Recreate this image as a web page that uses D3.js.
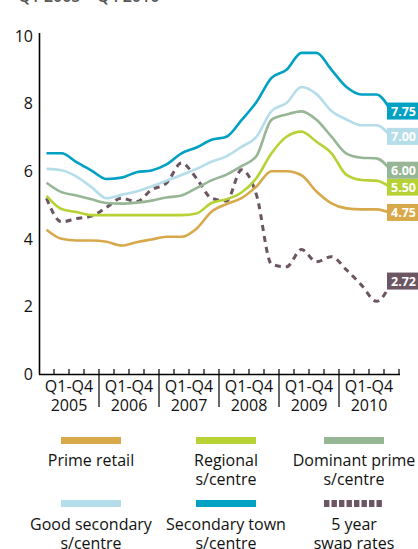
<!DOCTYPE html>
<html><head><meta charset="utf-8">
<script src="https://cdn.jsdelivr.net/npm/d3@7"></script>
<style>body{margin:0;background:#fff}svg{display:block}text{font-family:"Open Sans",sans-serif}</style>
</head><body>
<svg id="c" width="418" height="549"></svg>
<script>
const years = ["2005","2006","2007","2008","2009","2010"];
const quarters = ["Q1","Q2","Q3","Q4"];
const yTicks = [0,2,4,6,8,10];
const primeRetail = [4.27,4.0,3.95,3.95,3.91,3.8,3.9,3.98,4.06,4.06,4.3,4.8,5.03,5.2,5.55,6.0,6.0,5.88,5.4,5.05,4.9,4.87,4.87,4.75];
const regional = [5.27,4.88,4.79,4.7,4.7,4.7,4.7,4.7,4.7,4.7,4.75,5.06,5.17,5.37,5.8,6.53,7.02,7.17,6.87,6.53,5.89,5.74,5.72,5.5];
const dominant = [5.66,5.38,5.28,5.17,5.06,5.04,5.07,5.13,5.22,5.28,5.5,5.73,5.9,6.15,6.45,7.52,7.68,7.77,7.52,7.02,6.52,6.4,6.38,6.0];
const goodSecondary = [6.07,6.03,5.84,5.53,5.2,5.3,5.4,5.55,5.72,5.89,6.07,6.28,6.44,6.72,7.02,7.78,8.02,8.49,8.28,7.78,7.53,7.36,7.36,7.0];
const secondaryTown = [6.53,6.53,6.27,6.02,5.77,5.81,5.97,6.02,6.2,6.53,6.7,6.93,7.02,7.51,8.05,8.76,9.0,9.5,9.5,9.0,8.49,8.27,8.27,7.75];
const swapRates = [5.2,4.5,4.6,4.67,4.93,5.2,5.1,5.45,5.65,6.24,5.79,5.2,5.12,6.04,5.3,3.25,3.17,3.68,3.32,3.47,3.08,2.63,2.15,2.72];
const endLabels = ["4.75","5.50","6.00","7.00","7.75","2.72"];
const seriesNames = [["Prime retail"],["Regional","s/centre"],["Dominant prime","s/centre"],["Good secondary","s/centre"],["Secondary town","s/centre"],["5 year","swap rates"]];

const periods = [];
years.forEach(y => quarters.forEach(q => periods.push(y + q)));
const series = [
  {vals: primeRetail, color: "#D8A94B", dash: null},
  {vals: regional, color: "#B6D235", dash: null},
  {vals: dominant, color: "#97B696", dash: null},
  {vals: goodSecondary, color: "#B5DDEA", dash: null},
  {vals: secondaryTown, color: "#00A1C2", dash: null},
  {vals: swapRates, color: "#6C5663", dash: "6,5"}
];
const drawOrder = [5,0,1,2,3,4];

const svg = d3.select("#c");
const x0 = 39, x1 = 399;
const xBand = d3.scaleBand().domain(periods).range([x0, x1]);
const xYear = d3.scaleBand().domain(years).range([x0, x1]);
const y = d3.scaleLinear().domain([0,10]).range([374, 36]);
const xc = p => xBand(p) + xBand.bandwidth()/2;

// cropped title at top
svg.append("text").attr("x",18).attr("y",2).attr("font-size",16).attr("font-weight",600)
  .attr("fill","#555").text("Q1 2005 \u2013 Q4 2010");

// y axis
svg.append("line").attr("x1",x0+0.5).attr("x2",x0+0.5).attr("y1",33).attr("y2",y(0)+0.5)
  .attr("stroke","#000").attr("stroke-width",1.6);
svg.append("g").selectAll("text").data(yTicks).join("text")
  .attr("x",33).attr("y",d=>y(d)).attr("dy","0.36em").attr("text-anchor","end")
  .attr("font-size",16).attr("fill","#111").text(d=>d);

// x axis
svg.append("line").attr("x1",x0).attr("x2",x1+1).attr("y1",y(0)+0.5).attr("y2",y(0)+0.5)
  .attr("stroke","#000").attr("stroke-width",1.6);
svg.append("g").selectAll("line").data(periods).join("line")
  .attr("x1",p=>xBand(p)+xBand.bandwidth()).attr("x2",p=>xBand(p)+xBand.bandwidth())
  .attr("y1",y(0)).attr("y2",y(0)-5).attr("stroke","#000").attr("stroke-width",1.2);
svg.append("g").selectAll("line").data(years.slice(0,-1)).join("line")
  .attr("x1",d=>xYear(d)+xYear.bandwidth()).attr("x2",d=>xYear(d)+xYear.bandwidth())
  .attr("y1",y(0)).attr("y2",407).attr("stroke","#000").attr("stroke-width",1.2);
const yl = svg.append("g").selectAll("text").data(years).join("text")
  .attr("text-anchor","middle").attr("font-size",16).attr("fill","#111");
yl.append("tspan").attr("x",d=>xYear(d)+xYear.bandwidth()/2).attr("y",392).text("Q1-Q4");
yl.append("tspan").attr("x",d=>xYear(d)+xYear.bandwidth()/2).attr("y",411).text(d=>d);

// lines
const line = d3.line().x((d,i)=>xc(periods[i])).y(d=>y(d)).curve(d3.curveMonotoneX);
drawOrder.forEach(k => {
  const s = series[k];
  svg.append("path").attr("d", line(s.vals)).attr("fill","none")
    .attr("stroke", s.color).attr("stroke-width", s.dash ? 3 : 2.6)
    .attr("stroke-dasharray", s.dash).attr("stroke-linejoin","round");
});

// end labels
series.forEach((s,k) => {
  const v = s.vals[s.vals.length-1];
  const cy = y(v) - 1;
  svg.append("rect").attr("x",387).attr("y",cy-8.5).attr("width",36).attr("height",17).attr("fill",s.color);
  svg.append("text").attr("x",391).attr("y",cy).attr("dy","0.36em").attr("font-size",12.5)
    .attr("font-weight",700).attr("fill","#fff").text(endLabels[k]);
});

// legend
const colX = [91,226,354];
const rowY = [437,500];
const textY = [466,530];
series.forEach((s,k) => {
  const cx = colX[k%3], r = Math.floor(k/3);
  if (s.dash) {
    svg.append("line").attr("x1",cx-30).attr("x2",cx+30).attr("y1",rowY[r]+3.5).attr("y2",rowY[r]+3.5)
      .attr("stroke",s.color).attr("stroke-width",7).attr("stroke-dasharray","5.4,2.1");
  } else {
    svg.append("rect").attr("x",cx-30).attr("y",rowY[r]).attr("width",60).attr("height",7).attr("fill",s.color);
  }
  const t = svg.append("text").attr("text-anchor","middle").attr("font-size",16).attr("fill","#111");
  seriesNames[k].forEach((n,j) => {
    t.append("tspan").attr("x",cx).attr("y",textY[r]+j*18.5).text(n);
  });
});
</script>
</body></html>
